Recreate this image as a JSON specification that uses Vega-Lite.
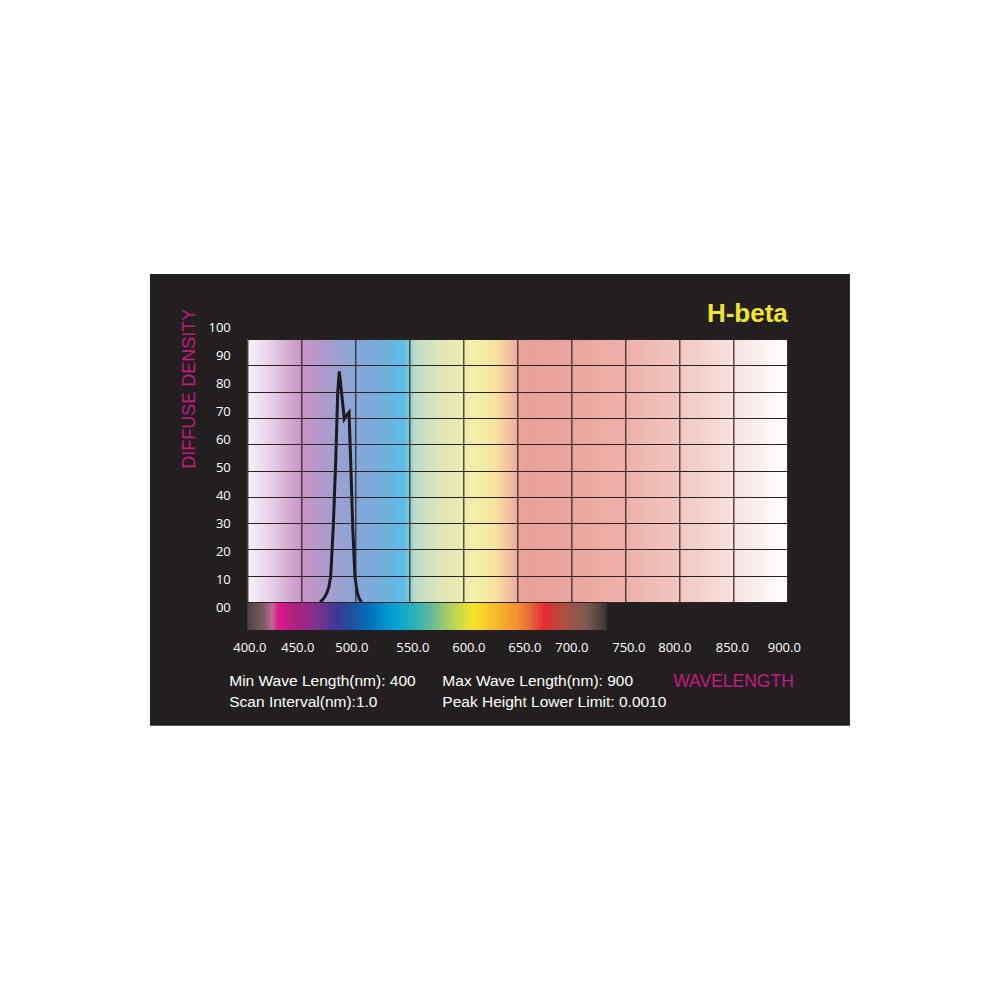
{
  "$schema": "https://vega.github.io/schema/vega-lite/v6.json",
  "width": 540,
  "height": 263,
  "autosize": {"type": "none"},
  "padding": {"left": 247.3, "top": 339, "right": 212.7, "bottom": 398},
  "background": "#ffffff",
  "config": {"view": {"stroke": null}},
  "data": {"values": [
    {"wl": 467.5, "d": 0},
    {"wl": 469.5, "d": 0.8},
    {"wl": 471.5, "d": 1.8},
    {"wl": 473.5, "d": 3.3},
    {"wl": 475.5, "d": 5.6},
    {"wl": 477.2, "d": 9.6},
    {"wl": 479.6, "d": 28.6},
    {"wl": 481.9, "d": 54},
    {"wl": 483.7, "d": 79.5},
    {"wl": 485.2, "d": 87.7},
    {"wl": 489.8, "d": 69.6},
    {"wl": 491.2, "d": 70.6},
    {"wl": 494.2, "d": 72.1},
    {"wl": 495.7, "d": 54},
    {"wl": 497.6, "d": 28.6},
    {"wl": 499.7, "d": 9.6},
    {"wl": 501.2, "d": 5},
    {"wl": 502.5, "d": 2.5},
    {"wl": 504, "d": 1},
    {"wl": 506, "d": 0}
  ]},
  "layer": [
    {
      "data": {"values": [{}]},
      "mark": {"type": "rect", "color": "#231f20"},
      "encoding": {
        "x": {"datum": 309.9, "type": "quantitative",
          "scale": {"domain": [400, 900], "nice": false, "zero": false},
          "axis": {
            "values": [400, 450, 500, 550, 600, 650, 700, 750, 800, 850, 900],
            "format": ".1f",
            "title": "WAVELENGTH",
            "grid": true, "gridColor": "#2b2224", "gridWidth": 1.2,
            "domain": false, "ticks": false, "tickSize": 0,
            "labelPadding": 49, "labelBaseline": "alphabetic", "labelAlign": "center",
            "labelFont": "Open Sans", "labelFontSize": 13, "labelColor": "#ffffff",
            "labelOffset": {"expr": "[2,-4,-4,3,5,7,0,3,-5,-1.5,-3.5][round((datum.value-400)/50)]"},
            "labelFlush": false, "labelOverlap": false,
            "titleFont": "Liberation Sans", "titleFontSize": 17.5, "titleFontWeight": "normal", "titleColor": "#c41a80",
            "titleX": 485.7, "titleY": 84, "titleAlign": "center", "titleBaseline": "alphabetic",
            "zindex": 1
          }
        },
        "x2": {"datum": 958},
        "y": {"datum": 124.7, "type": "quantitative",
          "scale": {"domain": [0, 100], "nice": false, "zero": false},
          "axis": {
            "values": [0, 10, 20, 30, 40, 50, 60, 70, 80, 90, 100],
            "tickCount": 11,
            "labelExpr": "datum.value == 0 ? '00' : datum.label",
            "title": "DIFFUSE  DENSITY",
            "grid": true, "gridColor": "#2b2224", "gridWidth": 1.2,
            "domain": false, "ticks": false, "tickSize": 0,
            "labelPadding": 17, "labelBaseline": "middle", "labelAlign": "right",
            "labelFont": "Open Sans", "labelFontSize": 13, "labelColor": "#ffffff",
            "labelOffset": {"expr": "5.5 - 0.175*datum.value"},
            "labelFlush": false, "labelOverlap": false,
            "titleFont": "Liberation Sans", "titleFontSize": 18, "titleFontWeight": "normal", "titleColor": "#c41a80",
            "titleX": -53.3, "titleY": 49.3, "titleAngle": -90, "titleAlign": "center", "titleBaseline": "alphabetic",
            "zindex": 1
          }
        },
        "y2": {"datum": -47.1}
      }
    },
    {
      "data": {"values": [{}]},
      "mark": {"type": "rect", "color": {"gradient": "linear", "x1": 0, "x2": 1, "y1": 0, "y2": 0, "stops": [
        {"offset": 0.0, "color": "#f8f4fa"},
        {"offset": 0.03, "color": "#ecdcee"},
        {"offset": 0.1, "color": "#c994c6"},
        {"offset": 0.12, "color": "#bd97c8"},
        {"offset": 0.16, "color": "#a29fd0"},
        {"offset": 0.2, "color": "#86a6d6"},
        {"offset": 0.26, "color": "#70b0de"},
        {"offset": 0.29, "color": "#58bfe8"},
        {"offset": 0.31, "color": "#bcdcc8"},
        {"offset": 0.36, "color": "#dfe7b9"},
        {"offset": 0.42, "color": "#f4efa6"},
        {"offset": 0.46, "color": "#f5e3a0"},
        {"offset": 0.49, "color": "#f0b9a0"},
        {"offset": 0.51, "color": "#e8a099"},
        {"offset": 0.6, "color": "#eaa59f"},
        {"offset": 0.7, "color": "#eeb1aa"},
        {"offset": 0.8, "color": "#f2c6c0"},
        {"offset": 0.9, "color": "#f8e2df"},
        {"offset": 1.0, "color": "#ffffff"}
      ]}},
      "encoding": {
        "x": {"datum": 400, "type": "quantitative"},
        "x2": {"datum": 900},
        "y": {"datum": 0, "type": "quantitative"},
        "y2": {"datum": 100}
      }
    },
    {
      "data": {"values": [{}]},
      "mark": {"type": "rect", "color": {"gradient": "linear", "x1": 0, "x2": 1, "y1": 0, "y2": 0, "stops": [
        {"offset": 0.0, "color": "#4a4444"},
        {"offset": 0.044, "color": "#7a5a66"},
        {"offset": 0.069, "color": "#c06a90"},
        {"offset": 0.086, "color": "#e0188c"},
        {"offset": 0.127, "color": "#b02080"},
        {"offset": 0.183, "color": "#8a2f8c"},
        {"offset": 0.25, "color": "#3a3a96"},
        {"offset": 0.294, "color": "#1a52a0"},
        {"offset": 0.35, "color": "#0077c0"},
        {"offset": 0.406, "color": "#00a0d8"},
        {"offset": 0.453, "color": "#20b0c0"},
        {"offset": 0.508, "color": "#60b8a0"},
        {"offset": 0.564, "color": "#b0d060"},
        {"offset": 0.628, "color": "#f5e42a"},
        {"offset": 0.694, "color": "#f8b82a"},
        {"offset": 0.75, "color": "#f39030"},
        {"offset": 0.786, "color": "#e86838"},
        {"offset": 0.828, "color": "#e22a30"},
        {"offset": 0.878, "color": "#b05040"},
        {"offset": 0.944, "color": "#7a5a50"},
        {"offset": 1.0, "color": "#3a3434"}
      ]}},
      "encoding": {
        "x": {"datum": 400, "type": "quantitative"},
        "x2": {"datum": 733},
        "y": {"datum": -0.3, "type": "quantitative"},
        "y2": {"datum": -10.6}
      }
    },
    {
      "mark": {"type": "line", "color": "#1d1a1b", "strokeWidth": 3, "strokeJoin": "miter"},
      "encoding": {
        "x": {"field": "wl", "type": "quantitative"},
        "y": {"field": "d", "type": "quantitative"}
      }
    },
    {
      "data": {"values": [{}]},
      "mark": {"type": "text", "color": "#f3e52c", "font": "Liberation Sans", "fontSize": 26, "fontWeight": "bold", "align": "right", "baseline": "alphabetic"},
      "encoding": {
        "x": {"datum": 900.5, "type": "quantitative"},
        "y": {"datum": 106.5, "type": "quantitative"},
        "text": {"value": "H-beta"}
      }
    },
    {
      "data": {"values": [{}]},
      "mark": {"type": "text", "color": "#ffffff", "font": "Liberation Sans", "fontSize": 15.5, "align": "left", "baseline": "alphabetic"},
      "encoding": {
        "x": {"datum": 383.3, "type": "quantitative"},
        "y": {"datum": -31.9, "type": "quantitative"},
        "text": {"value": "Min Wave Length(nm): 400"}
      }
    },
    {
      "data": {"values": [{}]},
      "mark": {"type": "text", "color": "#ffffff", "font": "Liberation Sans", "fontSize": 15.5, "align": "left", "baseline": "alphabetic"},
      "encoding": {
        "x": {"datum": 383.3, "type": "quantitative"},
        "y": {"datum": -40.1, "type": "quantitative"},
        "text": {"value": "Scan Interval(nm):1.0"}
      }
    },
    {
      "data": {"values": [{}]},
      "mark": {"type": "text", "color": "#ffffff", "font": "Liberation Sans", "fontSize": 15.5, "align": "left", "baseline": "alphabetic"},
      "encoding": {
        "x": {"datum": 580.6, "type": "quantitative"},
        "y": {"datum": -31.9, "type": "quantitative"},
        "text": {"value": "Max Wave Length(nm): 900"}
      }
    },
    {
      "data": {"values": [{}]},
      "mark": {"type": "text", "color": "#ffffff", "font": "Liberation Sans", "fontSize": 15.5, "align": "left", "baseline": "alphabetic"},
      "encoding": {
        "x": {"datum": 580.6, "type": "quantitative"},
        "y": {"datum": -40.1, "type": "quantitative"},
        "text": {"value": "Peak Height Lower Limit: 0.0010"}
      }
    }
  ]
}
